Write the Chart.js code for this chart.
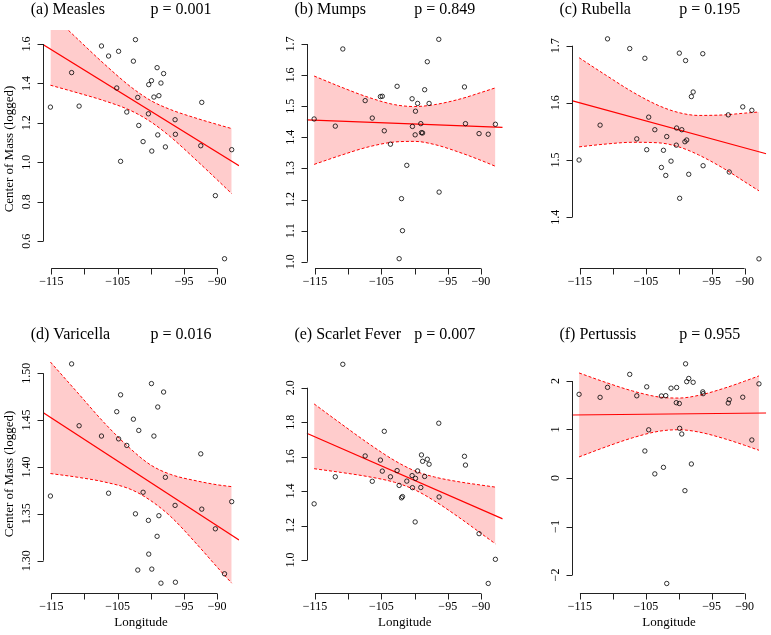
<!DOCTYPE html>
<html lang="en">
<head>
  <meta charset="UTF-8">
  <title>Center of Mass vs Longitude</title>
  <script src="https://cdn.jsdelivr.net/npm/chart.js"></script>
  <style>
    body { margin: 0; background: #fff; }
    #wrap { position: relative; width: 771px; height: 635px; background: #fff; }
    #wrap canvas { position: absolute; }
  </style>
</head>
<body>
  <div id="wrap"></div>

  <script>
    // longitude of each place (shared by all six panels)
    const longitude = [-115.13, -111.94, -110.81, -107.44, -106.37, -105.14, -104.86, -104.56, -103.63, -102.63,
      -102.32, -101.97, -101.82, -101.17, -100.37, -100.32, -99.91, -99.86, -99.54, -99.06,
      -98.96, -98.79, -98.48, -98.08, -97.81, -96.35, -96.30, -92.48, -92.33, -90.28, -88.90, -87.82];

    // center of mass (logged), one value per longitude
    const measles = [1.280, 1.455, 1.285, 1.590, 1.539, 1.377, 1.563, 1.005, 1.255, 1.513, 1.622, 1.329, 1.187, 1.105,
      1.246, 1.394, 1.414, 1.057, 1.331, 1.480, 1.139, 1.338, 1.402, 1.450, 1.078, 1.216, 1.142, 1.084, 1.304, 0.831, 0.511, 1.064];
    const mumps = [1.459, 1.436, 1.684, 1.518, 1.462, 1.531, 1.532, 1.421, 1.378, 1.564, 1.010, 1.203, 1.100, 1.310,
      1.524, 1.435, 1.408, 1.484, 1.509, 1.444, 1.415, 1.414, 1.553, 1.643, 1.509, 1.715, 1.224, 1.562, 1.444, 1.412, 1.410, 1.442];
    const rubella = [1.500, 1.561, 1.712, 1.695, 1.537, 1.678, 1.518, 1.575, 1.553, 1.487, 1.517, 1.473, 1.541, 1.498,
      1.526, 1.556, 1.687, 1.433, 1.553, 1.532, 1.674, 1.535, 1.475, 1.611, 1.619, 1.686, 1.490, 1.579, 1.479, 1.593, 1.587, 1.327];
    const varicella = [1.369, 1.510, 1.444, 1.433, 1.372, 1.459, 1.430, 1.477, 1.423, 1.451, 1.350, 1.290, 1.439, 1.373,
      1.343, 1.307, 1.489, 1.291, 1.433, 1.326, 1.464, 1.348, 1.276, 1.480, 1.389, 1.359, 1.277, 1.414, 1.355, 1.334, 1.286, 1.363];
    const scarletFever = [1.326, 1.483, 2.136, 1.604, 1.457, 1.580, 1.516, 1.747, 1.483, 1.519, 1.433, 1.361, 1.368, 1.458,
      1.490, 1.420, 1.221, 1.474, 1.517, 1.421, 1.610, 1.573, 1.485, 1.585, 1.556, 1.794, 1.366, 1.602, 1.551, 1.153, 0.864, 1.004];
    const pertussis = [1.725, 1.663, 1.869, 2.137, 1.695, 0.557, 1.880, 0.993, 0.085, 1.691, 0.220, 1.698, -2.175, 1.852,
      1.553, 1.866, 1.536, 1.024, 0.907, -0.261, 2.354, 1.986, 2.052, 0.289, 1.973, 1.776, 1.739, 1.546, 1.615, 1.666, 0.784, 1.941];

    // fitted line, value at the left and right edge of the plot
    const measlesLine = [1.597, 0.983];
    const mumpsLine = [1.456, 1.432];
    const rubellaLine = [1.604, 1.511];
    const varicellaLine = [1.458, 1.322];
    const scarletLine = [1.736, 1.239];
    const pertussisLine = [1.299, 1.340];

    // confidence band, read at these longitudes
    const bandX = [-115.13, -111, -107, -103, -100, -97, -93, -90, -87.82];
    const measlesUpper = [1.757, 1.624, 1.498, 1.382, 1.313, 1.267, 1.222, 1.192, 1.171];
    const measlesLower = [1.391, 1.352, 1.312, 1.262, 1.205, 1.128, 1.006, 0.911, 0.841];
    const mumpsUpper = [1.597, 1.561, 1.529, 1.505, 1.499, 1.505, 1.524, 1.544, 1.559];
    const mumpsLower = [1.313, 1.343, 1.369, 1.385, 1.387, 1.377, 1.350, 1.326, 1.307];
    const rubellaUpper = [1.679, 1.648, 1.619, 1.595, 1.583, 1.578, 1.579, 1.582, 1.584];
    const rubellaLower = [1.523, 1.528, 1.531, 1.530, 1.523, 1.509, 1.484, 1.462, 1.446];
    const varicellaUpper = [1.512, 1.479, 1.447, 1.419, 1.402, 1.392, 1.385, 1.381, 1.379];
    const varicellaLower = [1.393, 1.389, 1.384, 1.376, 1.364, 1.347, 1.317, 1.293, 1.276];
    const scarletUpper = [1.906, 1.789, 1.678, 1.577, 1.518, 1.482, 1.452, 1.435, 1.423];
    const scarletLower = [1.530, 1.508, 1.484, 1.451, 1.408, 1.343, 1.239, 1.155, 1.094];
    const pertussisUpper = [2.166, 1.967, 1.794, 1.670, 1.648, 1.703, 1.855, 1.996, 2.105];
    const pertussisLower = [0.435, 0.645, 0.829, 0.964, 0.995, 0.949, 0.808, 0.675, 0.572];

    // titles and ticks
    const titles = ['(a) Measles', '(b) Mumps', '(c) Rubella', '(d) Varicella', '(e) Scarlet Fever', '(f) Pertussis'];
    const pValues = ['p = 0.001', 'p = 0.849', 'p = 0.195', 'p = 0.016', 'p = 0.007', 'p = 0.955'];
    const xTicks = [-115, -110, -105, -100, -95, -90];
    const xTickLabels = ['\u2212115', '', '\u2212105', '', '\u221295', '\u221290'];
    const measlesTicks = ['0.6', '0.8', '1.0', '1.2', '1.4', '1.6'];
    const mumpsTicks = ['1.0', '1.1', '1.2', '1.3', '1.4', '1.5', '1.6', '1.7'];
    const rubellaTicks = ['1.4', '1.5', '1.6', '1.7'];
    const varicellaTicks = ['1.30', '1.35', '1.40', '1.45', '1.50'];
    const scarletTicks = ['1.0', '1.2', '1.4', '1.6', '1.8', '2.0'];
    const pertussisTicks = ['\u22122', '\u22121', '0', '1', '2'];

    const xRange = [-116.25, -86.72];
    const yRanges = [[0.464, 1.671], [0.980, 1.745], [1.311, 1.7275], [1.2655, 1.5195], [0.8085, 2.190], [-2.371, 2.536]];

    const panels = [
      { values: measles, line: measlesLine, upper: measlesUpper, lower: measlesLower, ticks: measlesTicks },
      { values: mumps, line: mumpsLine, upper: mumpsUpper, lower: mumpsLower, ticks: mumpsTicks },
      { values: rubella, line: rubellaLine, upper: rubellaUpper, lower: rubellaLower, ticks: rubellaTicks },
      { values: varicella, line: varicellaLine, upper: varicellaUpper, lower: varicellaLower, ticks: varicellaTicks },
      { values: scarletFever, line: scarletLine, upper: scarletUpper, lower: scarletLower, ticks: scarletTicks },
      { values: pertussis, line: pertussisLine, upper: pertussisUpper, lower: pertussisLower, ticks: pertussisTicks }
    ];

    // page layout: each canvas covers one cell, padding puts the plot region where R had it
    const colLeft = [0, 257, 514];
    const colPad = [[43, 18], [49.7, 11.3], [57.7, 3.3]];
    const rowTop = [0, 317];
    const rowHeight = [317, 318];
    const rowPad = [[30, 49], [38, 42]];

    const serif = '"Liberation Serif", "DejaVu Serif", serif';
    const red = '#ff0000';

    const rAxes = {
      id: 'rAxes',
      afterDraw(chart, args, o) {
        const { ctx, chartArea: a, scales: { x, y } } = chart;
        ctx.save();
        ctx.strokeStyle = '#222';
        ctx.lineWidth = 1;
        ctx.fillStyle = '#000';

        // x axis, line only spans the ticks
        const yb = Math.round(a.bottom) + 0.5;
        ctx.beginPath();
        ctx.moveTo(x.getPixelForValue(xTicks[0]), yb);
        ctx.lineTo(x.getPixelForValue(xTicks[xTicks.length - 1]), yb);
        xTicks.forEach(t => {
          const px = Math.round(x.getPixelForValue(t)) + 0.5;
          ctx.moveTo(px, yb);
          ctx.lineTo(px, yb + 6);
        });
        ctx.stroke();
        ctx.font = '12px ' + serif;
        ctx.textAlign = 'center';
        ctx.textBaseline = 'middle';
        xTickLabels.forEach((l, i) => {
          if (l) ctx.fillText(l, x.getPixelForValue(xTicks[i]), a.bottom + 14);
        });

        // y axis
        const xl = Math.round(a.left) + 0.5;
        const vals = o.ticks.map(t => parseFloat(t.replace('\u2212', '-')));
        ctx.beginPath();
        ctx.moveTo(xl, y.getPixelForValue(vals[0]));
        ctx.lineTo(xl, y.getPixelForValue(vals[vals.length - 1]));
        vals.forEach(v => {
          const py = Math.round(y.getPixelForValue(v)) + 0.5;
          ctx.moveTo(xl, py);
          ctx.lineTo(xl - 6, py);
        });
        ctx.stroke();
        vals.forEach((v, i) => {
          ctx.save();
          ctx.translate(a.left - 16, y.getPixelForValue(v));
          ctx.rotate(-Math.PI / 2);
          ctx.fillText(o.ticks[i], 0, 0);
          ctx.restore();
        });

        // axis titles
        ctx.font = '13px ' + serif;
        if (o.yTitle) {
          ctx.save();
          ctx.translate(a.left - 33.5, (a.top + a.bottom) / 2);
          ctx.rotate(-Math.PI / 2);
          ctx.fillText('Center of Mass (logged)', 0, 0);
          ctx.restore();
        }
        if (o.xTitle) {
          ctx.fillText('Longitude', (a.left + a.right) / 2, a.bottom + 30);
        }

        // panel title: name on the left, p value on the right
        ctx.font = '16px ' + serif;
        ctx.textAlign = 'left';
        ctx.fillText(o.title, a.left - 12.3, a.top - 20);
        ctx.textAlign = 'right';
        ctx.fillText(o.p, a.left + 168.5, a.top - 20);
        ctx.restore();
      }
    };

    const wrap = document.getElementById('wrap');

    panels.forEach((p, i) => {
      const col = i % 3, row = Math.floor(i / 3);
      const canvas = document.createElement('canvas');
      canvas.width = 257;
      canvas.height = rowHeight[row];
      canvas.style.left = colLeft[col] + 'px';
      canvas.style.top = rowTop[row] + 'px';
      canvas.style.width = '257px';
      canvas.style.height = rowHeight[row] + 'px';
      wrap.appendChild(canvas);

      new Chart(canvas.getContext('2d'), {
        type: 'line',
        data: {
          datasets: [
            {
              data: longitude.map((x, k) => ({ x, y: p.values[k] })),
              showLine: false,
              pointRadius: 2.2,
              pointBorderWidth: 0.8,
              pointBackgroundColor: 'rgba(0,0,0,0)',
              pointBorderColor: '#000'
            },
            {
              data: [{ x: xRange[0], y: p.line[0] }, { x: xRange[1], y: p.line[1] }],
              borderColor: red,
              borderWidth: 1.2,
              pointRadius: 0,
              fill: false,
              clip: 0
            },
            {
              data: bandX.map((x, k) => ({ x, y: p.upper[k] })),
              borderColor: red,
              borderWidth: 1,
              borderDash: [3, 2],
              backgroundColor: 'rgba(255,0,0,0.2)',
              pointRadius: 0,
              cubicInterpolationMode: 'monotone',
              fill: '+1',
              clip: 0
            },
            {
              data: bandX.map((x, k) => ({ x, y: p.lower[k] })),
              borderColor: red,
              borderWidth: 1,
              borderDash: [3, 2],
              pointRadius: 0,
              cubicInterpolationMode: 'monotone',
              fill: false,
              clip: 0
            }
          ]
        },
        options: {
          responsive: false,
          animation: false,
          devicePixelRatio: 1,
          layout: {
            padding: { left: colPad[col][0], right: colPad[col][1], top: rowPad[row][0], bottom: rowPad[row][1] }
          },
          scales: {
            x: { type: 'linear', min: xRange[0], max: xRange[1], display: false },
            y: { type: 'linear', min: yRanges[i][0], max: yRanges[i][1], display: false }
          },
          plugins: {
            legend: { display: false },
            tooltip: { enabled: false },
            filler: { drawTime: 'beforeDatasetsDraw' },
            rAxes: {
              ticks: p.ticks,
              title: titles[i],
              p: pValues[i],
              yTitle: col === 0,
              xTitle: row === 1
            }
          }
        },
        plugins: [rAxes]
      });
    });
  </script>
</body>
</html>
